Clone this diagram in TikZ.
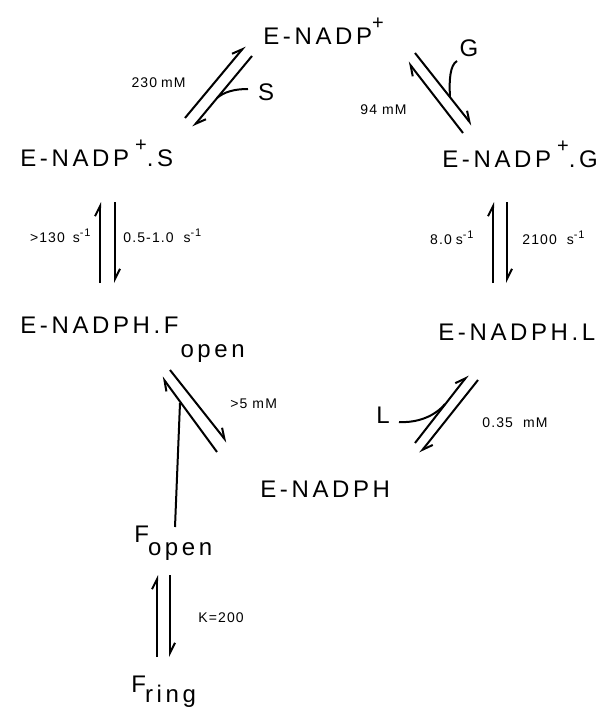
\documentclass[tikz,border=0pt]{standalone}
\usepackage{fontspec}
\setmainfont{Liberation Sans}
\usetikzlibrary{arrows.meta}
\newfontfamily\spfont[LetterSpace=15]{Liberation Sans}
\newfontfamily\smfont[LetterSpace=8]{Liberation Sans}
% raised charge and inverse-second exponent
\newcommand\pl{\raisebox{7.5pt}{\fontsize{10}{10}\selectfont +}}
\newcommand\sinv{\raisebox{3.2pt}{\fontsize{5.5}{6}\selectfont -1}}
\begin{document}
\begin{tikzpicture}[x=0.5pt,y=-0.5pt,
  sp/.style={font=\spfont\fontsize{12}{14}\selectfont, inner sep=0pt, anchor=base west},
  sm/.style={font=\smfont\fontsize{7}{8}\selectfont, inner sep=0pt},
  lig/.style={font=\spfont\fontsize{12}{14}\selectfont, inner sep=0pt},
  hook/.style={line width=1pt},
  harp/.style={line width=1pt, -{Straight Barb[left,length=5pt,width=5pt]}}]
\useasboundingbox (0,0) rectangle (607,717);

% species
\node[sp] (nadp)  at (263,45)  {E-NADP\pl};
\node[sp] (nadpS) at (20,166)  {E-NADP\kern3pt\pl.S};
\node[sp] (nadpG) at (442,168) {E-NADP\kern3pt\pl.G};
\node[sp] (fo)    at (20,333)  {E-NADPH.F\kern1pt\raisebox{-12pt}{open}};
\node[sp] (nl)    at (438,340) {E-NADPH.L};
\node[sp] (nh)    at (260,497) {E-NADPH};
\node[sp] (fopen) at (134,542) {F\kern-0.5pt\raisebox{-6.5pt}{open}};
\node[sp] (fring) at (131,692) {F\kern-0.5pt\raisebox{-5pt}{ring}};

% ligands
\node[lig] (S) at (266,92)  {S};
\node[lig] (G) at (469,48)  {G};
\node[lig] (L) at (383,415) {L};

% E-NADP+.S <-> E-NADP+
\coordinate (a1) at (185,118); \coordinate (a2) at (245,46);
\coordinate (b1) at (252,56);  \coordinate (b2) at (193,127);
\draw[harp] (a1) -- (a2);
\draw[harp] (b1) -- (b2);
\coordinate (sS) at (248,89); \coordinate (sJ) at (217,98);
\draw[hook] (sS) .. controls (234,89) and (224,92) .. (sJ);
\node[sm, anchor=east] (k230) at (186,83) {230\hspace{2pt}mM};

% E-NADP+ <-> E-NADP+.G
\coordinate (c1) at (415,53);  \coordinate (c2) at (472,125);
\coordinate (d1) at (463,133); \coordinate (d2) at (408,62);
\draw[harp] (c1) -- (c2);
\draw[harp] (d1) -- (d2);
\coordinate (gG) at (457,61); \coordinate (gJ) at (450,97);
\draw[hook] (gG) .. controls (450,65) and (449,80) .. (gJ);
\node[sm, anchor=west] (k94) at (360,110) {94 mM};

% E-NADP+.S <-> E-NADPH.Fopen
\coordinate (e1) at (100,283); \coordinate (e2) at (100,202);
\coordinate (f1) at (115,202); \coordinate (f2) at (115,283);
\draw[harp] (e1) -- (e2);
\draw[harp] (f1) -- (f2);
\node[sm, anchor=east] (kf1) at (91,236) {>130\hspace{4pt}s\sinv};
\node[sm, anchor=west] (kr1) at (123,236) {0.5-1.0\hspace{5pt}s\sinv};

% E-NADP+.G <-> E-NADPH.L
\coordinate (g1) at (493,283); \coordinate (g2) at (493,202);
\coordinate (h1) at (507,202); \coordinate (h2) at (507,283);
\draw[harp] (g1) -- (g2);
\draw[harp] (h1) -- (h2);
\node[sm, anchor=east] (kf2) at (474,238) {8.0\hspace{2pt}s\sinv};
\node[sm, anchor=west] (kr2) at (522,238) {2100\hspace{5pt}s\sinv};

% E-NADPH.Fopen <-> E-NADPH + Fopen
\coordinate (i1) at (170,370); \coordinate (i2) at (227,442);
\coordinate (j1) at (217,452); \coordinate (j2) at (162,377);
\draw[harp] (i1) -- (i2);
\draw[harp] (j1) -- (j2);
\coordinate (fS) at (175,527); \coordinate (fJ) at (180,403);
\draw[hook] (fS) -- (fJ);
\node[sm, anchor=west] (k5) at (230,404) {>5 mM};

% E-NADPH + L <-> E-NADPH.L
\coordinate (k1) at (415,443); \coordinate (k2) at (468,375);
\coordinate (l1) at (478,380); \coordinate (l2) at (420,453);
\draw[harp] (k1) -- (k2);
\draw[harp] (l1) -- (l2);
\coordinate (lL) at (399,422); \coordinate (lJ) at (445,404);
\draw[hook] (lL) .. controls (418,423) and (435,416) .. (lJ);
\node[sm, anchor=west] (k35) at (482,423) {0.35\hspace{5pt}mM};

% Fopen <-> Fring
\coordinate (m1) at (157,657); \coordinate (m2) at (157,575);
\coordinate (n1) at (170,575); \coordinate (n2) at (170,657);
\draw[harp] (m1) -- (m2);
\draw[harp] (n1) -- (n2);
\node[sm, anchor=west] (keq) at (198,618) {K=200};
\end{tikzpicture}
\end{document}
